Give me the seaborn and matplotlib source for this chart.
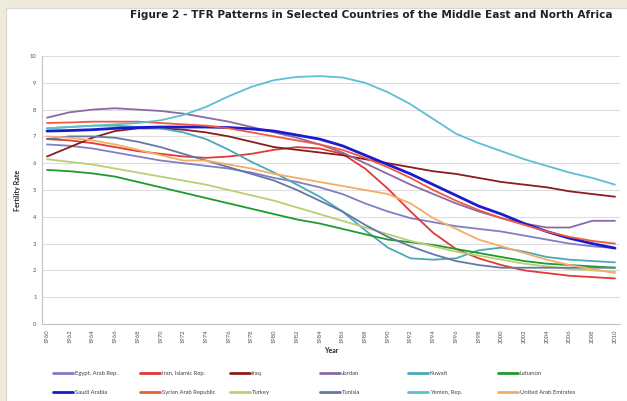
import numpy as np
import pandas as pd
import seaborn as sns
import matplotlib.pyplot as plt
from matplotlib.lines import Line2D
from matplotlib.patches import Rectangle

years = list(range(1960, 2011, 2))

# TFR values (every second year, 1960-2010)
egypt = [6.7, 6.65, 6.55, 6.4, 6.25, 6.1, 6.0, 5.9, 5.8, 5.65, 5.45, 5.3, 5.1,
         4.85, 4.5, 4.2, 3.95, 3.8, 3.65, 3.55, 3.45, 3.3, 3.15, 3.0, 2.9, 2.83]
iran = [6.9, 6.85, 6.75, 6.6, 6.45, 6.35, 6.25, 6.2, 6.25, 6.35, 6.5, 6.6, 6.55,
        6.35, 5.8, 5.05, 4.2, 3.4, 2.8, 2.45, 2.2, 2.0, 1.9, 1.8, 1.75, 1.7]
iraq = [6.25, 6.6, 6.95, 7.2, 7.3, 7.3, 7.25, 7.15, 7.0, 6.8, 6.6, 6.5, 6.4,
        6.3, 6.15, 6.0, 5.85, 5.7, 5.6, 5.45, 5.3, 5.2, 5.1, 4.95, 4.85, 4.75]
jordan = [7.7, 7.9, 8.0, 8.05, 8.0, 7.95, 7.85, 7.7, 7.55, 7.35, 7.15, 6.95, 6.7,
          6.4, 6.0, 5.6, 5.2, 4.85, 4.5, 4.2, 3.95, 3.75, 3.6, 3.6, 3.85, 3.85]
kuwait = [7.3, 7.35, 7.4, 7.4, 7.35, 7.3, 7.15, 6.9, 6.5, 6.05, 5.65, 5.2, 4.75,
          4.2, 3.5, 2.85, 2.45, 2.4, 2.45, 2.75, 2.85, 2.7, 2.5, 2.4, 2.35, 2.3]
lebanon = [5.75, 5.7, 5.62, 5.5, 5.3, 5.1, 4.9, 4.7, 4.5, 4.3, 4.1, 3.9, 3.75,
           3.55, 3.35, 3.15, 3.05, 2.95, 2.8, 2.65, 2.5, 2.35, 2.25, 2.2, 2.15, 2.1]
saudi = [7.2, 7.22, 7.25, 7.3, 7.33, 7.35, 7.35, 7.35, 7.33, 7.28, 7.2, 7.05, 6.9,
         6.65, 6.3, 5.95, 5.6, 5.2, 4.8, 4.4, 4.1, 3.75, 3.45, 3.2, 3.0, 2.83]
syria = [7.5, 7.52, 7.55, 7.55, 7.55, 7.5, 7.45, 7.4, 7.3, 7.15, 7.0, 6.85, 6.7,
         6.5, 6.2, 5.85, 5.45, 5.0, 4.6, 4.25, 3.95, 3.7, 3.45, 3.25, 3.1, 3.0]
turkey = [6.15, 6.05, 5.95, 5.8, 5.65, 5.5, 5.35, 5.2, 5.0, 4.8, 4.6, 4.35, 4.1,
          3.85, 3.6, 3.35, 3.1, 2.9, 2.7, 2.55, 2.4, 2.25, 2.15, 2.05, 2.0, 1.95]
tunisia = [6.9, 7.0, 7.0, 6.95, 6.8, 6.6, 6.35, 6.1, 5.85, 5.6, 5.35, 5.0, 4.6,
           4.2, 3.7, 3.25, 2.9, 2.6, 2.35, 2.2, 2.1, 2.1, 2.1, 2.1, 2.1, 2.1]
yemen = [7.3, 7.35, 7.4, 7.45, 7.5, 7.6, 7.8, 8.1, 8.5, 8.85, 9.1, 9.22, 9.25,
         9.2, 9.0, 8.65, 8.2, 7.65, 7.1, 6.75, 6.45, 6.15, 5.9, 5.65, 5.45, 5.2]
uae = [7.0, 6.95, 6.85, 6.7, 6.5, 6.3, 6.1, 6.1, 5.95, 5.8, 5.6, 5.45, 5.3,
       5.15, 5.0, 4.85, 4.5, 3.95, 3.55, 3.15, 2.9, 2.65, 2.4, 2.2, 2.05, 1.9]

countries = ['Egypt, Arab Rep.', 'Iran, Islamic Rep.', 'Iraq', 'Jordan', 'Kuwait',
             'Lebanon', 'Saudi Arabia', 'Syrian Arab Republic', 'Turkey', 'Tunisia',
             'Yemen, Rep.', 'United Arab Emirates']
series = [egypt, iran, iraq, jordan, kuwait, lebanon, saudi, syria, turkey,
          tunisia, yemen, uae]
colors = ['#7f7fc4', '#e03a36', '#8b1c1c', '#8a6aa6', '#4aa8b8', '#1f9a2e',
          '#1a1ad0', '#f05a3c', '#b9cf72', '#6478a6', '#5cbfd2', '#f6ac66']

rows = []
for name, vals in zip(countries, series):
    for yr, v in zip(years, vals):
        rows.append({'Year': yr, 'TFR': v, 'Country': name})
df = pd.DataFrame(rows)

sns.set_style('white')
plt.rcParams['font.family'] = ['Lato', 'DejaVu Sans']

fig = plt.figure(figsize=(6.27, 4.01), dpi=100, facecolor='#efebdc')
fig.add_artist(Rectangle((6 / 627, 0), 1, (401 - 8) / 401, transform=fig.transFigure,
                         facecolor='white', edgecolor='#d6d6d6', lw=0.8, zorder=-1))
ax = fig.add_axes([42 / 627, 1 - 324 / 401, 578 / 627, 268 / 401])
ax.set_facecolor('white')

pal = dict(zip(countries, colors))
sns.lineplot(data=df, x='Year', y='TFR', hue='Country', hue_order=countries,
             palette=pal, errorbar=None, legend=False, linewidth=1.3, ax=ax)
ax.lines[countries.index('Saudi Arabia')].set_linewidth(2.0)

ax.set_xlim(1959.56, 2010.44)
ax.set_ylim(0, 10)
ax.set_yticks(range(0, 11))
ax.set_xticks(years)
ax.set_xticklabels([str(y) for y in years], rotation=90)
ax.tick_params(axis='both', labelsize=4.2, colors='#505050', length=2, width=0.5, pad=2)
ax.yaxis.grid(True, color='#dedede', lw=0.8)
ax.xaxis.grid(False)
for s in ['top', 'right']:
    ax.spines[s].set_visible(False)
for s in ['left', 'bottom']:
    ax.spines[s].set_color('#c4c4c4')
    ax.spines[s].set_linewidth(0.8)

ax.set_xlabel('Year', fontsize=5, fontweight='bold', labelpad=3)
ax.set_ylabel('Fertility Rate', fontsize=5, fontweight='bold', labelpad=6)

fig.text(612 / 627, 1 - 15 / 401,
         'Figure 2 - TFR Patterns in Selected Countries of the Middle East and North Africa',
         ha='right', va='center', fontsize=7.6, fontweight='bold', color='#222222',
         family='DejaVu Sans')

# legend: two rows, six columns
col_x = [53, 140, 230, 320, 408, 498]
for i in range(6):
    pair = [i, i + 6]
    handles = [Line2D([], [], color=colors[j], lw=2.0) for j in pair]
    labels = [countries[j] for j in pair]
    fig.legend(handles, labels, loc='upper left',
               bbox_to_anchor=(col_x[i] / 627, 1 - 371 / 401),
               frameon=False, fontsize=4.2, handlelength=3.4, handletextpad=0.3,
               labelspacing=2.3, borderpad=0, borderaxespad=0, labelcolor='#404040')

fig.savefig('out.png', dpi=100, facecolor=fig.get_facecolor())
